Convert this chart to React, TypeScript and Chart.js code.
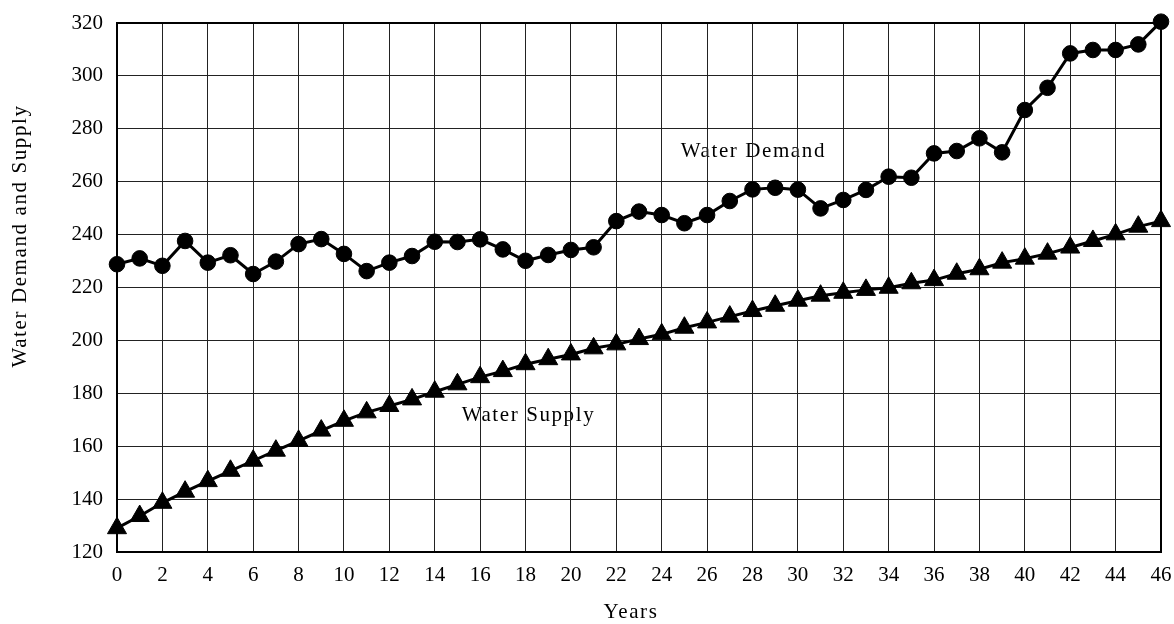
import React, { useEffect, useRef } from 'react';
import { Chart, registerables } from 'chart.js';

Chart.register(...registerables);

const years = [
  0, 1, 2, 3, 4, 5, 6, 7, 8, 9, 10, 11, 12, 13, 14, 15, 16, 17, 18, 19, 20, 21, 22, 23,
  24, 25, 26, 27, 28, 29, 30, 31, 32, 33, 34, 35, 36, 37, 38, 39, 40, 41, 42, 43, 44, 45, 46,
];

const waterDemand = [
  228.8, 231.0, 228.2, 237.6, 229.4, 232.2, 225.1, 229.8, 236.4, 238.3,
  232.7, 226.2, 229.4, 231.9, 237.3, 237.2, 238.2, 234.4, 230.1, 232.3,
  234.2, 235.2, 245.1, 248.7, 247.4, 244.3, 247.4, 252.7, 257.1, 257.7,
  257.0, 249.9, 253.1, 256.9, 261.9, 261.5, 270.7, 271.6, 276.4, 271.1,
  287.1, 295.5, 308.5, 309.8, 309.8, 311.9, 320.5,
];

const waterSupply = [
  129.0, 133.6, 138.6, 142.8, 146.8, 150.7, 154.5, 158.3, 162.0, 165.9,
  169.6, 172.8, 175.2, 177.7, 180.6, 183.4, 186.1, 188.4, 191.0, 192.9,
  194.7, 197.0, 198.5, 200.5, 202.3, 204.8, 206.8, 209.0, 211.1, 213.1,
  215.0, 216.9, 218.0, 219.1, 219.9, 221.6, 222.8, 225.2, 226.9, 229.4,
  230.9, 232.8, 235.1, 237.6, 240.1, 243.0, 245.1,
];

const xTitle = 'Years';
const yTitle = 'Water Demand and Supply';
const demandLabel = 'Water Demand';
const supplyLabel = 'Water Supply';
// label anchors in data coordinates [year, value]
const demandLabelAt = [28.04, 271.6];
const supplyLabelAt = [18.13, 171.8];

const FONT = '"Liberation Serif", "Times New Roman", serif';

const overlayPlugin = {
  id: 'overlay',
  beforeDraw(chart: any) {
    const { ctx, scales } = chart;
    ctx.save();
    ctx.fillStyle = '#ffffff';
    ctx.fillRect(0, 0, chart.width, chart.height);
    ctx.fillStyle = '#000000';
    ctx.font = `21px ${FONT}`;
    try { (ctx as any).letterSpacing = '1.6px'; } catch (e) {}
    ctx.textAlign = 'center';
    ctx.textBaseline = 'middle';
    ctx.fillText(
      demandLabel,
      scales.x.getPixelForValue(demandLabelAt[0]),
      scales.y.getPixelForValue(demandLabelAt[1])
    );
    ctx.fillText(
      supplyLabel,
      scales.x.getPixelForValue(supplyLabelAt[0]),
      scales.y.getPixelForValue(supplyLabelAt[1])
    );
    ctx.fillText(xTitle, 631, 612);
    ctx.translate(20, 236);
    ctx.rotate(-Math.PI / 2);
    ctx.fillText(yTitle, 0, 0);
    ctx.restore();
  },
  beforeDatasetsDraw(chart: any) {
    const { ctx, chartArea } = chart;
    ctx.save();
    ctx.strokeStyle = '#000000';
    ctx.lineWidth = 2;
    ctx.strokeRect(
      chartArea.left,
      chartArea.top,
      chartArea.right - chartArea.left,
      chartArea.bottom - chartArea.top
    );
    ctx.restore();
  },
};

export default function App() {
  const canvasRef = useRef<HTMLCanvasElement | null>(null);

  useEffect(() => {
    const canvas = canvasRef.current;
    if (!canvas) return;
    const chart = new Chart(canvas, {
      type: 'line',
      data: {
        datasets: [
          {
            label: demandLabel,
            data: years.map((x, i) => ({ x, y: waterDemand[i] })),
            borderColor: '#000000',
            backgroundColor: '#000000',
            borderWidth: 3,
            pointStyle: 'circle',
            pointRadius: 7.8,
            pointBorderWidth: 1,
            pointBackgroundColor: '#000000',
            pointBorderColor: '#000000',
            tension: 0,
            clip: false as any,
          },
          {
            label: supplyLabel,
            data: years.map((x, i) => ({ x, y: waterSupply[i] })),
            borderColor: '#000000',
            backgroundColor: '#000000',
            borderWidth: 3,
            pointStyle: 'triangle',
            pointRadius: 11,
            pointBorderWidth: 1,
            pointBackgroundColor: '#000000',
            pointBorderColor: '#000000',
            tension: 0,
            clip: false as any,
          },
        ],
      },
      options: {
        animation: false,
        responsive: false,
        maintainAspectRatio: false,
        devicePixelRatio: 1,
        layout: { padding: { top: 23, right: 13, left: 0, bottom: 0 } },
        plugins: {
          legend: { display: false },
          tooltip: { enabled: false },
        },
        scales: {
          x: {
            type: 'linear',
            min: 0,
            max: 46,
            border: { display: false },
            grid: { color: '#222222', lineWidth: 1, drawTicks: false },
            ticks: {
              stepSize: 2,
              padding: 11,
              color: '#000000',
              font: { family: FONT, size: 21 },
              maxRotation: 0,
            },
            afterFit: (scale: any) => {
              scale.height = 72;
              scale.paddingLeft = 0;
              scale.paddingRight = 0;
            },
          },
          y: {
            type: 'linear',
            min: 120,
            max: 320,
            border: { display: false },
            grid: { color: '#222222', lineWidth: 1, drawTicks: false },
            ticks: {
              stepSize: 20,
              padding: 14,
              color: '#000000',
              font: { family: FONT, size: 21 },
            },
            afterFit: (scale: any) => {
              scale.width = 117;
              scale.paddingTop = 0;
              scale.paddingBottom = 0;
            },
          },
        },
      },
      plugins: [overlayPlugin],
    });
    return () => chart.destroy();
  }, []);

  return (
    <div style={{ position: 'fixed', left: 0, top: 0, width: 1174, height: 624, background: '#fff' }}>
      <canvas ref={canvasRef} width={1174} height={624} style={{ display: 'block' }} />
    </div>
  );
}
